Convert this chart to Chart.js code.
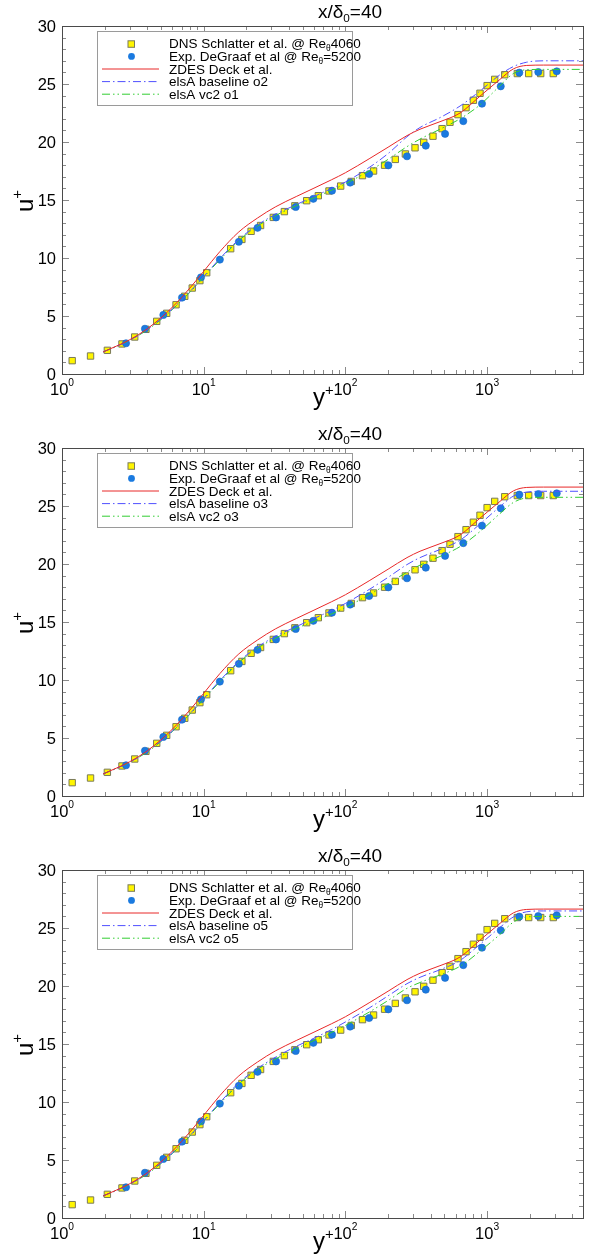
<!DOCTYPE html>
<html>
<head>
<meta charset="UTF-8">
<title>u+ profiles, x/δ0=40</title>
<script src="https://cdn.jsdelivr.net/npm/chart.js"></script>
<style>
  body { margin: 0; background: #fff; }
  canvas { display: block; }
</style>
</head>
<body>
<canvas id="c1" width="593" height="422"></canvas>
<canvas id="c2" width="593" height="422"></canvas>
<canvas id="c3" width="593" height="414"></canvas>
<script>
// reference data (same in all three panels)
const dnsYp = [1.18, 1.59, 2.09, 2.65, 3.26, 3.91, 4.66, 5.48, 6.38, 7.35, 8.3, 9.4, 10.5, 15.5, 18.6, 21.6, 25.2, 31, 37.1, 44, 53.3, 64.4, 76.6, 92.6, 110, 132, 158, 189, 225, 265, 310, 357, 415, 481, 547, 623, 710, 800, 891, 1000, 1131, 1332, 1634, 1965, 2388, 2930];
const dnsU  = [1.15, 1.55, 2.04, 2.59, 3.19, 3.85, 4.54, 5.23, 5.97, 6.7, 7.41, 8.05, 8.73, 10.8, 11.6, 12.3, 12.8, 13.5, 14.0, 14.5, 14.94, 15.37, 15.78, 16.2, 16.6, 17.1, 17.5, 18.0, 18.5, 18.97, 19.5, 19.97, 20.5, 21.15, 21.7, 22.36, 22.96, 23.6, 24.2, 24.86, 25.4, 25.8, 25.9, 25.9, 25.9, 25.9];
const expYp = [2.83, 3.85, 5.19, 7.03, 9.57, 13.0, 17.7, 24.0, 32.4, 44.6, 59.4, 80.4, 108, 147, 201, 272, 369, 505, 679, 920, 1248, 1687, 2297, 3100];
const expU  = [2.65, 3.9, 5.09, 6.58, 8.33, 9.86, 11.4, 12.6, 13.5, 14.4, 15.1, 15.8, 16.5, 17.24, 17.99, 18.77, 19.68, 20.7, 21.8, 23.3, 24.8, 25.98, 26.03, 26.09];

// simulations, sampled at simYp
const simYp  = [1.95, 3, 4, 5, 6, 7, 8, 10, 13, 17.7, 24, 32, 45, 60, 80, 100, 147, 200, 272, 336, 465, 644, 891, 1233, 1531, 1904, 2500, 4750];
const zdesU  = [1.9, 2.95, 3.9, 4.85, 5.75, 6.62, 7.42, 8.85, 10.55, 12.25, 13.45, 14.4, 15.3, 16.02, 16.75, 17.35, 18.55, 19.55, 20.55, 21.1, 21.75, 22.5, 23.95, 25.4, 26.3, 26.6, 26.63, 26.63];
const baseO2 = [1.9, 2.9, 3.85, 4.75, 5.6, 6.4, 7.1, 8.4, 9.95, 11.6, 12.85, 13.75, 14.6, 15.3, 16.0, 16.55, 17.8, 19.0, 20.45, 21.25, 22.1, 23.1, 24.4, 25.8, 26.5, 26.88, 27.0, 27.0];
const vc2O1  = [1.9, 2.9, 3.8, 4.7, 5.55, 6.35, 7.05, 8.35, 9.85, 11.5, 12.75, 13.65, 14.5, 15.2, 15.85, 16.4, 17.5, 18.5, 19.6, 20.25, 21.1, 22.0, 23.2, 24.85, 25.9, 26.23, 26.26, 26.26];
const baseO3 = [1.9, 2.9, 3.85, 4.75, 5.6, 6.4, 7.1, 8.4, 9.95, 11.6, 12.85, 13.75, 14.6, 15.3, 16.0, 16.6, 17.8, 18.85, 19.95, 20.55, 21.25, 22.05, 23.45, 24.95, 25.85, 26.2, 26.27, 26.27];
const vc2O3  = [1.9, 2.9, 3.8, 4.7, 5.55, 6.35, 7.05, 8.35, 9.85, 11.5, 12.75, 13.6, 14.45, 15.05, 15.7, 16.25, 17.35, 18.3, 19.3, 19.9, 20.65, 21.5, 22.8, 24.35, 25.3, 25.7, 25.75, 25.75];
const baseO5 = [1.9, 2.9, 3.85, 4.75, 5.6, 6.4, 7.1, 8.4, 9.95, 11.65, 12.9, 13.85, 14.8, 15.5, 16.25, 16.9, 18.1, 19.15, 20.2, 20.75, 21.4, 22.2, 23.6, 25.05, 25.95, 26.4, 26.47, 26.47];
const vc2O5  = [1.9, 2.9, 3.8, 4.7, 5.55, 6.35, 7.05, 8.35, 9.85, 11.55, 12.8, 13.7, 14.6, 15.3, 16.0, 16.6, 17.75, 18.75, 19.8, 20.3, 20.95, 21.7, 23.0, 24.45, 25.5, 25.95, 26.0, 26.0];

const baseLabels = ['elsA baseline o2', 'elsA baseline o3', 'elsA baseline o5'];
const vc2Labels  = ['elsA vc2 o1', 'elsA vc2 o3', 'elsA vc2 o5'];

// axes
const yTicks = [0, 5, 10, 15, 20, 25, 30];
const xDecades = [1, 10, 100, 1000];
const xExp = ['0', '1', '2', '3'];
const xMax = 4750;

const FONT = '"Liberation Sans", Arial, sans-serif';
const RED = 'rgb(232,40,40)', BLUE = 'rgb(80,80,255)', GREEN = 'rgb(50,205,50)';
const DASH_B = [8, 3, 1.5, 3], DASH_G = [8, 3, 1.5, 3, 1.5, 3];

function pts(xs, ys) { return xs.map((x, i) => ({ x: x, y: ys[i] })); }

// text with sub/superscript pieces: [text, shift] (shift<0 raised, >0 lowered)
function richText(ctx, parts, x, y, size, align) {
  let w = 0;
  parts.forEach(p => {
    ctx.font = (p[1] ? size * 0.62 : size) + 'px ' + FONT;
    w += ctx.measureText(p[0]).width;
  });
  let cx = align === 'center' ? x - w / 2 : x;
  ctx.textAlign = 'left';
  ctx.textBaseline = 'alphabetic';
  parts.forEach(p => {
    ctx.font = (p[1] ? size * 0.62 : size) + 'px ' + FONT;
    ctx.fillText(p[0], cx, y + (p[1] || 0));
    cx += ctx.measureText(p[0]).width;
  });
}

const frame = {
  id: 'frame',
  afterDraw(chart, args, opts) {
    const ctx = chart.ctx, a = chart.chartArea;
    const xs = chart.scales.x, ys = chart.scales.y;
    ctx.save();
    // ticks
    ctx.strokeStyle = '#8a8a8a';
    ctx.lineWidth = 1;
    ctx.beginPath();
    for (let v = 0; v <= 30; v++) {
      const py = Math.round(ys.getPixelForValue(v)) + 0.5;
      const len = v % 5 === 0 ? 7 : 4;
      ctx.moveTo(a.left, py); ctx.lineTo(a.left + len, py);
      ctx.moveTo(a.right, py); ctx.lineTo(a.right - len, py);
    }
    xDecades.forEach(d => {
      for (let m = 1; m < 10; m++) {
        if (d * m > xMax) break;
        const px = Math.round(xs.getPixelForValue(d * m)) + 0.5;
        const len = m === 1 ? 7 : 4;
        ctx.moveTo(px, a.bottom); ctx.lineTo(px, a.bottom - len);
        ctx.moveTo(px, a.top); ctx.lineTo(px, a.top + len);
      }
    });
    ctx.stroke();
    // frame
    ctx.strokeStyle = '#4a4a4a';
    ctx.strokeRect(a.left + 0.5, a.top + 0.5, a.right - a.left, a.bottom - a.top);

    ctx.fillStyle = '#000';
    // y tick labels
    ctx.font = '16.5px ' + FONT;
    ctx.textAlign = 'right';
    ctx.textBaseline = 'middle';
    yTicks.forEach(v => ctx.fillText(String(v), a.left - 6, ys.getPixelForValue(v) + 1));
    // x tick labels
    xDecades.forEach((d, i) => {
      richText(ctx, [['10', 0], [xExp[i], -9]], xs.getPixelForValue(d), a.bottom + 21, 16.5, 'center');
    });
    // axis titles
    richText(ctx, [['y', 0], ['+', -10]], 313, a.bottom + 31, 24, 'left');
    ctx.save();
    ctx.translate(33, 206);
    ctx.rotate(-Math.PI / 2);
    richText(ctx, [['u', 0], ['+', -11]], -6, 0, 24, 'left');
    ctx.restore();
    // title
    richText(ctx, [['x/δ', 0], ['0', 4], ['=40', 0]], 350, 18, 19, 'center');

    // legend
    const L = { x: 97, y: 31, w: 255, h: 74 };
    ctx.fillStyle = '#fff';
    ctx.fillRect(L.x, L.y, L.w, L.h);
    ctx.strokeStyle = '#9a9a9a';
    ctx.strokeRect(L.x + 0.5, L.y + 0.5, L.w, L.h);
    const rows = [
      [['DNS Schlatter et al. @ Re', 0], ['θ', 3], ['4060', 0]],
      [['Exp. DeGraaf et al @ Re', 0], ['θ', 3], ['=5200', 0]],
      [['ZDES Deck et al.', 0]],
      [[opts.baseLabel, 0]],
      [[opts.vc2Label, 0]]
    ];
    rows.forEach((r, i) => {
      const base = 48.3 + i * 12.6;
      const cy = base - 4.5;
      ctx.fillStyle = '#000';
      richText(ctx, r, 169, base, 13.5, 'left');
      if (i === 0) {
        ctx.fillStyle = 'rgb(255,245,0)';
        ctx.strokeStyle = '#7a7a5a';
        ctx.fillRect(128, cy - 3, 6.5, 6.5);
        ctx.strokeRect(128, cy - 3, 6.5, 6.5);
      } else if (i === 1) {
        ctx.fillStyle = '#1a7ae0';
        ctx.beginPath(); ctx.arc(131.5, cy, 3.4, 0, Math.PI * 2); ctx.fill();
      } else {
        ctx.strokeStyle = [RED, BLUE, GREEN][i - 2];
        ctx.setLineDash([[], DASH_B, DASH_G][i - 2]);
        ctx.beginPath(); ctx.moveTo(102, cy); ctx.lineTo(159, cy); ctx.stroke();
        ctx.setLineDash([]);
      }
    });
    ctx.restore();
  }
};

function makePanel(id, height, base, vc2, k) {
  const lineDs = (label, ys, color, dash) => ({
    label: label, data: pts(simYp, ys), showLine: true, borderColor: color,
    borderWidth: 1, borderDash: dash, pointRadius: 0, cubicInterpolationMode: 'monotone', order: 1
  });
  new Chart(document.getElementById(id), {
    type: 'scatter',
    data: {
      datasets: [
        { label: 'DNS Schlatter et al.', data: pts(dnsYp, dnsU), pointStyle: 'rect', pointRadius: 4.5,
          backgroundColor: 'rgb(255,245,0)', borderColor: '#7a7a5a', borderWidth: 1, order: 3 },
        { label: 'Exp. DeGraaf et al', data: pts(expYp, expU), pointStyle: 'circle', pointRadius: 3.6,
          backgroundColor: '#1a7ae0', borderColor: '#1868c8', borderWidth: 0.6, order: 2 },
        lineDs('ZDES Deck et al.', zdesU, RED, []),
        lineDs(baseLabels[k], base, BLUE, DASH_B),
        lineDs(vc2Labels[k], vc2, GREEN, DASH_G)
      ]
    },
    options: {
      responsive: false,
      animation: false,
      layout: { padding: { left: 62, top: 26, right: 10, bottom: height - 374 } },
      scales: {
        x: { type: 'logarithmic', min: 1, max: xMax, display: false },
        y: { type: 'linear', min: 0, max: 30, display: false }
      },
      plugins: {
        legend: { display: false },
        tooltip: { enabled: false },
        frame: { baseLabel: baseLabels[k], vc2Label: vc2Labels[k] }
      }
    },
    plugins: [frame]
  });
}

makePanel('c1', 422, baseO2, vc2O1, 0);
makePanel('c2', 422, baseO3, vc2O3, 1);
makePanel('c3', 414, baseO5, vc2O5, 2);
</script>
</body>
</html>
